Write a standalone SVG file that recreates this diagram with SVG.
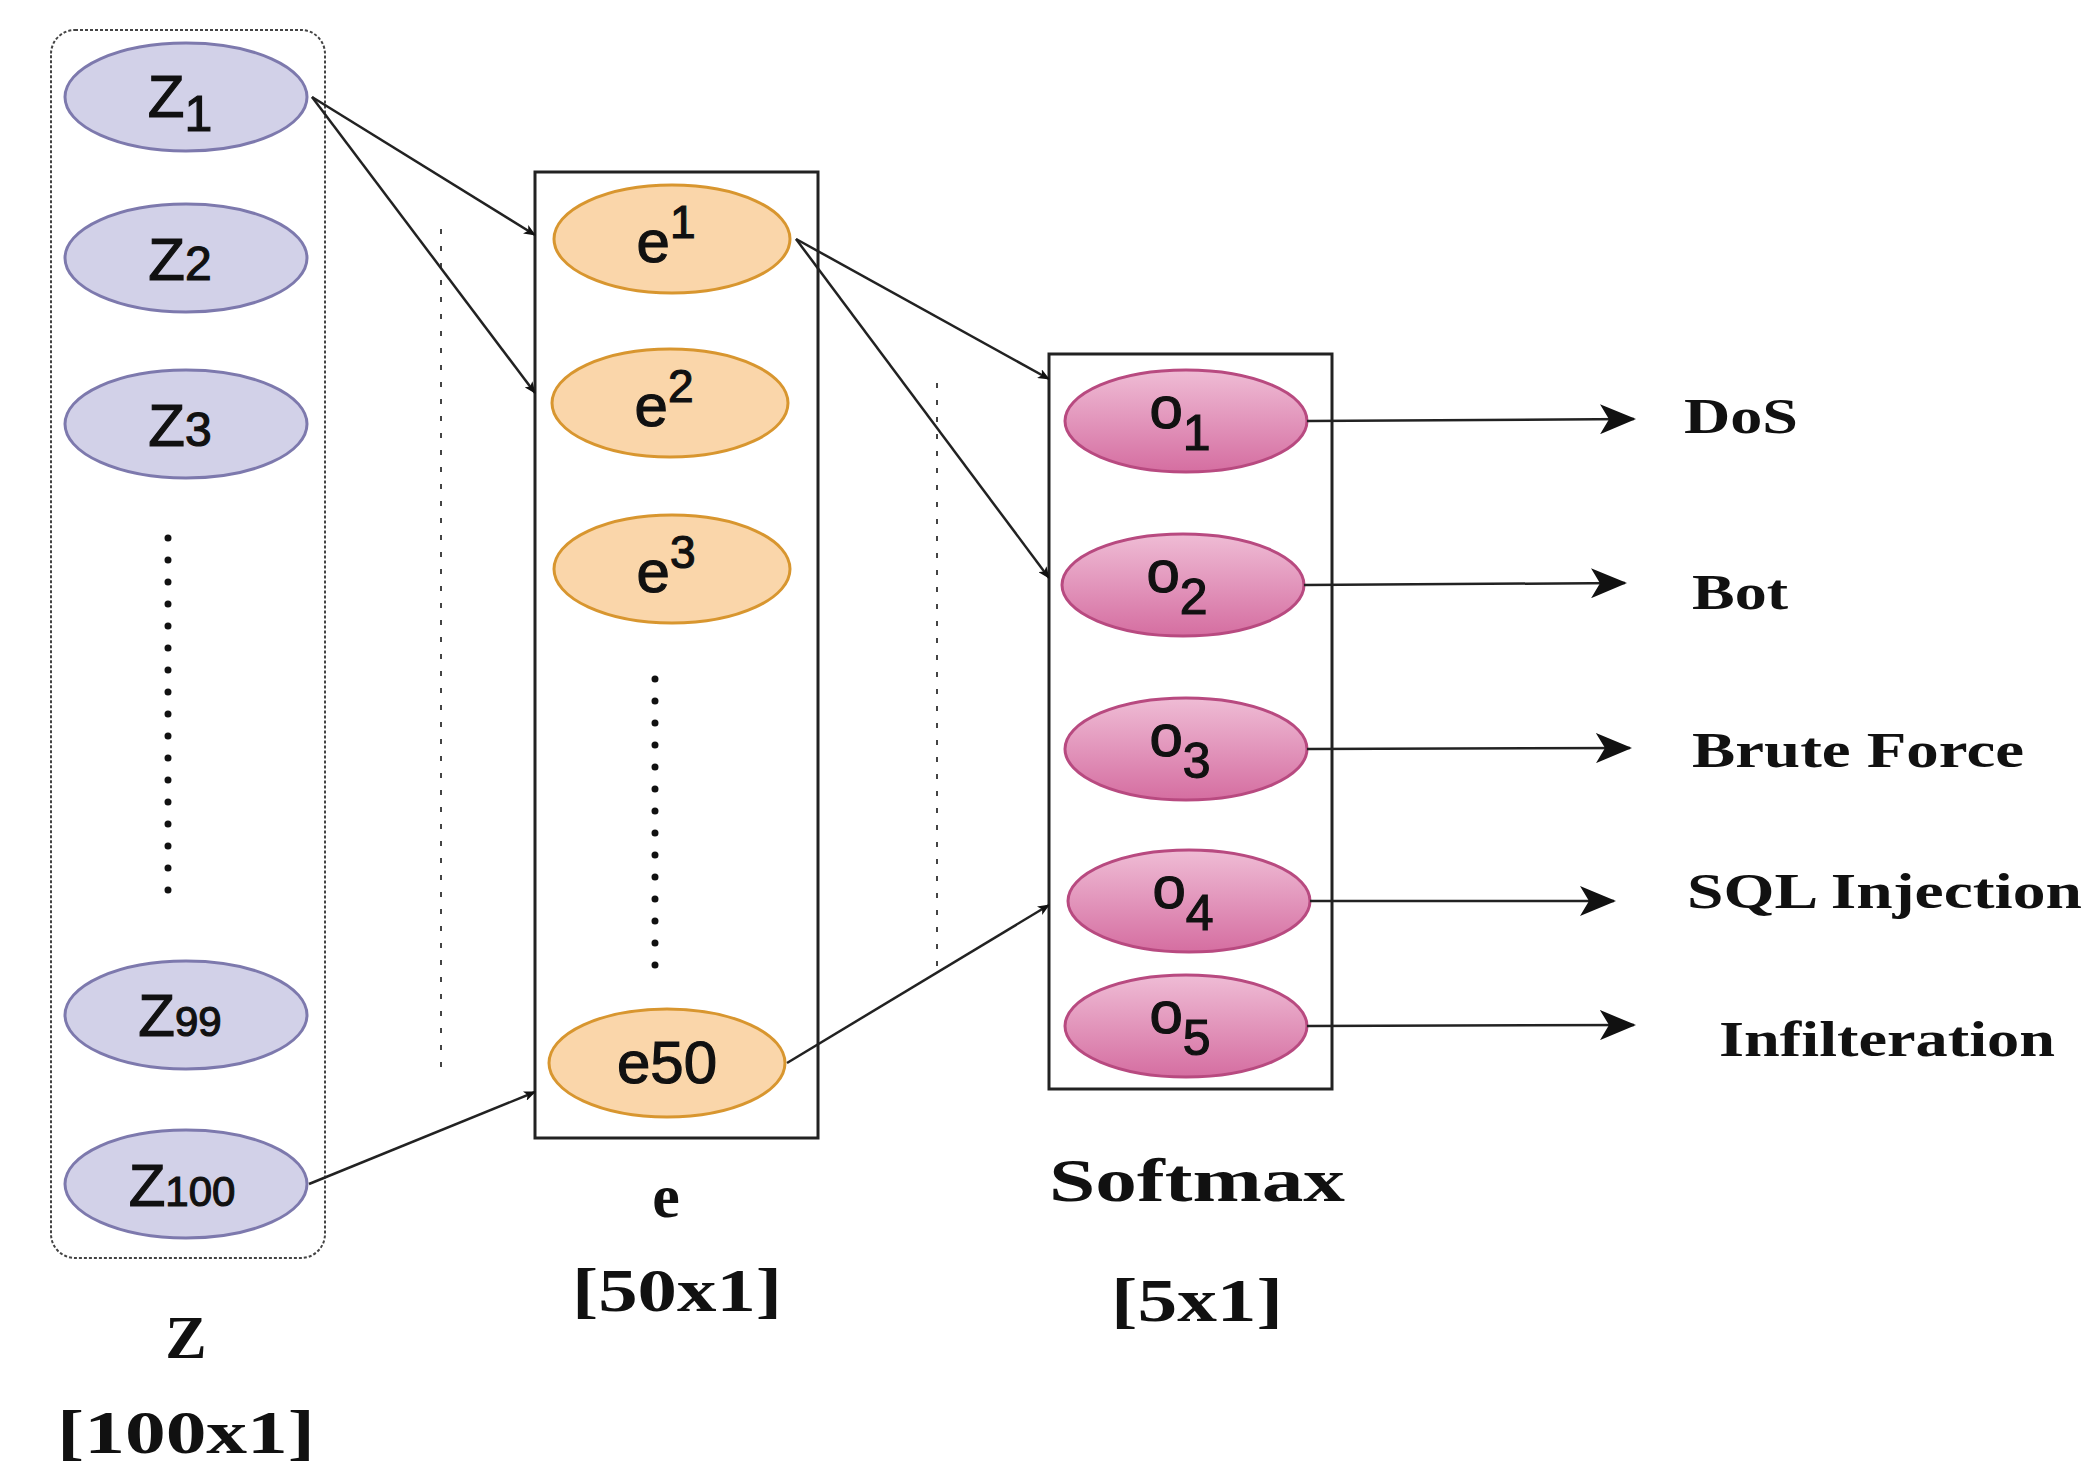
<svg xmlns="http://www.w3.org/2000/svg" width="2098" height="1479" viewBox="0 0 2098 1479">
<style>
.zn{fill:#d2d1e8;stroke:#7d79ad;stroke-width:3}
.en{fill:#fad6aa;stroke:#d8962f;stroke-width:3}
.on{fill:url(#pg);stroke:#b84a80;stroke-width:3}
.nt{font-family:"Liberation Sans",Arial,sans-serif;font-size:60px;fill:#111;stroke:#111;stroke-width:1.2;text-anchor:middle}
.lb{font-family:"Liberation Serif","Times New Roman",serif;font-weight:bold;font-size:50px;fill:#111}
.bl{font-family:"Liberation Serif","Times New Roman",serif;font-weight:bold;font-size:62px;fill:#111;text-anchor:middle}
.c{stroke:#222;stroke-width:2.5;fill:none;marker-end:url(#ah)}
.dl{stroke:#444;stroke-width:2;stroke-dasharray:5 12}
.dd{stroke:#111;stroke-width:7;stroke-linecap:round;stroke-dasharray:0 22}
</style>
<defs>
<linearGradient id="pg" x1="0" y1="0" x2="0" y2="1"><stop offset="0" stop-color="#efbcd5"/><stop offset="1" stop-color="#d56ea1"/></linearGradient>
<marker id="ah" markerWidth="12" markerHeight="10" refX="11" refY="5" orient="auto" markerUnits="userSpaceOnUse" viewBox="0 0 12 10"><path d="M0,0 L12,5 L0,10 L3,5 Z" fill="#111"/></marker>
<marker id="ab" markerWidth="36" markerHeight="30" refX="34" refY="15" orient="auto" markerUnits="userSpaceOnUse" viewBox="0 0 36 30"><path d="M0,0 L36,15 L0,30 L9,15 Z" fill="#111"/></marker>
</defs>
<rect width="2098" height="1479" fill="#fff"/>
<rect x="51" y="30" width="274" height="1228" rx="24" fill="none" stroke="#444" stroke-width="2" stroke-dasharray="3 2"/>
<rect x="535" y="172" width="283" height="966" fill="none" stroke="#222" stroke-width="3"/>
<rect x="1049" y="354" width="283" height="735" fill="none" stroke="#222" stroke-width="3"/>
<line class="dl" x1="441" y1="229" x2="441" y2="1069"/>
<line class="dl" x1="937" y1="383" x2="937" y2="968"/>
<line class="dd" x1="168" y1="538" x2="168" y2="901"/>
<line class="dd" x1="655" y1="679" x2="655" y2="968"/>
<g id="Z1"><ellipse class="zn" cx="186" cy="97" rx="121" ry="54"/><text class="nt" x="180" y="117">Z<tspan font-size="50" dy="14">1</tspan></text></g>
<g id="Z2"><ellipse class="zn" cx="186" cy="258" rx="121" ry="54"/><text class="nt" x="180" y="280">Z<tspan font-size="48">2</tspan></text></g>
<g id="Z3"><ellipse class="zn" cx="186" cy="424" rx="121" ry="54"/><text class="nt" x="180" y="446">Z<tspan font-size="48">3</tspan></text></g>
<g id="Z99"><ellipse class="zn" cx="186" cy="1015" rx="121" ry="54"/><text class="nt" x="180" y="1036">Z<tspan font-size="42">99</tspan></text></g>
<g id="Z100"><ellipse class="zn" cx="186" cy="1184" rx="121" ry="54"/><text class="nt" x="182" y="1206">Z<tspan font-size="42">100</tspan></text></g>
<g id="e1"><ellipse class="en" cx="672" cy="239" rx="118" ry="54"/><text class="nt" x="666" y="262">e<tspan font-size="46" dy="-24">1</tspan></text></g>
<g id="e2"><ellipse class="en" cx="670" cy="403" rx="118" ry="54"/><text class="nt" x="664" y="426">e<tspan font-size="46" dy="-24">2</tspan></text></g>
<g id="e3"><ellipse class="en" cx="672" cy="569" rx="118" ry="54"/><text class="nt" x="666" y="592">e<tspan font-size="46" dy="-24">3</tspan></text></g>
<g id="e50"><ellipse class="en" cx="667" cy="1063" rx="118" ry="54"/><text class="nt" x="667" y="1083">e50</text></g>
<g id="o1"><ellipse class="on" cx="1186" cy="421" rx="121" ry="51"/><text class="nt" x="1180" y="428">o<tspan font-size="50" dy="22">1</tspan></text></g>
<g id="o2"><ellipse class="on" cx="1183" cy="585" rx="121" ry="51"/><text class="nt" x="1177" y="592">o<tspan font-size="50" dy="22">2</tspan></text></g>
<g id="o3"><ellipse class="on" cx="1186" cy="749" rx="121" ry="51"/><text class="nt" x="1180" y="756">o<tspan font-size="50" dy="22">3</tspan></text></g>
<g id="o4"><ellipse class="on" cx="1189" cy="901" rx="121" ry="51"/><text class="nt" x="1183" y="908">o<tspan font-size="50" dy="22">4</tspan></text></g>
<g id="o5"><ellipse class="on" cx="1186" cy="1026" rx="121" ry="51"/><text class="nt" x="1180" y="1033">o<tspan font-size="50" dy="22">5</tspan></text></g>
<g id="connectors">
<line class="c" x1="312" y1="97" x2="535" y2="235"/>
<line class="c" x1="312" y1="97" x2="535" y2="393"/>
<line class="c" x1="309" y1="1184" x2="535" y2="1092"/>
<line class="c" x1="796" y1="239" x2="1049" y2="379"/>
<line class="c" x1="796" y1="239" x2="1049" y2="578"/>
<line class="c" x1="787" y1="1063" x2="1049" y2="905"/>
<line class="c" style="marker-end:url(#ab)" x1="1307" y1="421" x2="1634" y2="419"/>
<line class="c" style="marker-end:url(#ab)" x1="1304" y1="585" x2="1625" y2="583"/>
<line class="c" style="marker-end:url(#ab)" x1="1307" y1="749" x2="1630" y2="748"/>
<line class="c" style="marker-end:url(#ab)" x1="1310" y1="901" x2="1614" y2="901"/>
<line class="c" style="marker-end:url(#ab)" x1="1307" y1="1026" x2="1634" y2="1025"/>
</g>
<text class="lb" x="1684" y="433" textLength="114" lengthAdjust="spacingAndGlyphs">DoS</text>
<text class="lb" x="1692" y="609" textLength="96" lengthAdjust="spacingAndGlyphs">Bot</text>
<text class="lb" x="1692" y="767" textLength="332" lengthAdjust="spacingAndGlyphs">Brute Force</text>
<text class="lb" x="1687" y="908" textLength="395" lengthAdjust="spacingAndGlyphs">SQL Injection</text>
<text class="lb" x="1719" y="1056" textLength="336" lengthAdjust="spacingAndGlyphs">Infilteration</text>
<text class="bl" x="186" y="1358">Z</text>
<text class="bl" x="186" y="1453" textLength="258" lengthAdjust="spacingAndGlyphs">[100x1]</text>
<text class="bl" x="666" y="1217">e</text>
<text class="bl" x="677" y="1311" textLength="210" lengthAdjust="spacingAndGlyphs">[50x1]</text>
<text class="bl" x="1197" y="1201" textLength="296" lengthAdjust="spacingAndGlyphs">Softmax</text>
<text class="bl" x="1197" y="1321" textLength="172" lengthAdjust="spacingAndGlyphs">[5x1]</text>
</svg>
